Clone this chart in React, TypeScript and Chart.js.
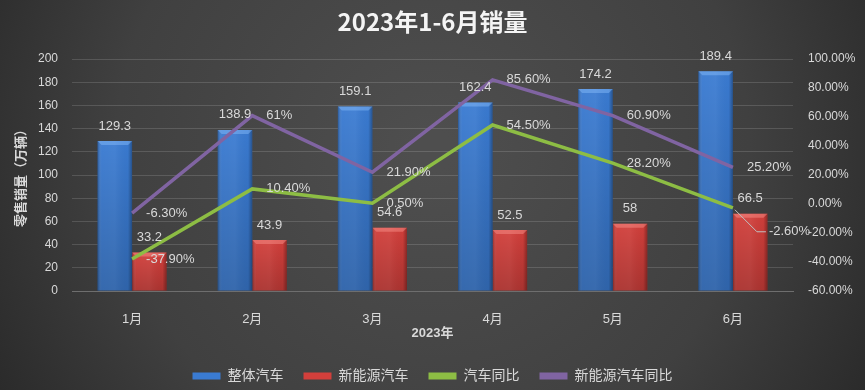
import React, { useEffect, useRef } from 'react';
import { Chart, registerables } from 'chart.js';

Chart.register(...registerables);

// ---- data ----
const categories = ['1月', '2月', '3月', '4月', '5月', '6月'];
const totalSales = [129.3, 138.9, 159.1, 162.4, 174.2, 189.4];
const nevSales = [33.2, 43.9, 54.6, 52.5, 58, 66.5];
const totalYoY = [-37.9, 10.4, 0.5, 54.5, 28.2, -2.6];
const nevYoY = [-6.3, 61, 21.9, 85.6, 60.9, 25.2];
const seriesNames = ['整体汽车', '新能源汽车', '汽车同比', '新能源汽车同比'];
const titleText = '2023年1-6月销量';
const xTitle = '2023年';
const yTitle = '零售销量（万辆）';

// ---- layout / style ----
const W = 865;
const H = 390;
const PLOT_LEFT = 72;
const PLOT_RIGHT = 793;
const PLOT_BOTTOM = 291;
const LAYOUT_BOTTOM = -3;
const FONT = '"Liberation Sans", "Noto Sans CJK SC", sans-serif';
const TEXT = '#d9d9d9';
const COLORS = ['#3a7bd2', '#d23f3b', '#8dbd44', '#8064a2'];
const BEVEL = ['rgba(140,190,250,0.45)', 'rgba(250,150,145,0.45)'];

const bgPlugin = {
  id: 'bg',
  beforeDraw(chart: any) {
    const { ctx } = chart;
    ctx.save();
    const g = ctx.createRadialGradient(W / 2, 150, 20, W / 2, 150, 560);
    g.addColorStop(0, '#4e4e4e');
    g.addColorStop(0.55, '#404040');
    g.addColorStop(1, '#232323');
    ctx.fillStyle = g;
    ctx.fillRect(0, 0, W, H);
    ctx.restore();
  },
};

const bevelPlugin = {
  id: 'bevel',
  afterDatasetDraw(chart: any, args: any) {
    const ds = chart.data.datasets[args.index];
    if (ds.type !== 'bar') return;
    const ctx = chart.ctx;
    args.meta.data.forEach((bar: any) => {
      const { x, y, base, width } = bar.getProps(['x', 'y', 'base', 'width'], true);
      const l = x - width / 2;
      const r = x + width / 2;
      ctx.save();
      const g = ctx.createLinearGradient(l, 0, r, 0);
      g.addColorStop(0, 'rgba(0,0,0,0.28)');
      g.addColorStop(0.12, 'rgba(255,255,255,0.04)');
      g.addColorStop(0.5, 'rgba(255,255,255,0.06)');
      g.addColorStop(0.88, 'rgba(0,0,0,0.02)');
      g.addColorStop(1, 'rgba(0,0,0,0.32)');
      ctx.fillStyle = g;
      ctx.fillRect(l, y, width, base - y);
      const v = ctx.createLinearGradient(0, y, 0, base);
      v.addColorStop(0, 'rgba(0,0,0,0)');
      v.addColorStop(1, 'rgba(0,0,0,0.18)');
      ctx.fillStyle = v;
      ctx.fillRect(l, y, width, base - y);
      ctx.beginPath();
      ctx.moveTo(l, y);
      ctx.lineTo(r, y);
      ctx.lineTo(r - 4, y + 4);
      ctx.lineTo(l + 4, y + 4);
      ctx.closePath();
      ctx.fillStyle = BEVEL[args.index];
      ctx.fill();
      ctx.restore();
    });
  },
};

const pctText = (v: number) => (Number.isInteger(v) ? `${v}%` : `${v.toFixed(2)}%`);

const labelPlugin = {
  id: 'valueLabels',
  afterDatasetsDraw(chart: any) {
    const ctx = chart.ctx;
    ctx.save();
    ctx.font = `13px ${FONT}`;
    ctx.fillStyle = TEXT;
    ctx.textBaseline = 'middle';
    chart.data.datasets.forEach((ds: any, di: number) => {
      const meta = chart.getDatasetMeta(di);
      meta.data.forEach((el: any, i: number) => {
        const v = ds.data[i];
        if (ds.type === 'bar') {
          ctx.textAlign = 'center';
          ctx.fillText(String(v), el.x, el.y - 15);
        } else {
          let tx = el.x + 14;
          let ty = el.y;
          if (di === 2 && i === 5) {
            // label moved down-right with a leader line
            tx = el.x + 36;
            ty = el.y + 24;
            ctx.save();
            ctx.strokeStyle = '#bfbfbf';
            ctx.lineWidth = 1;
            ctx.beginPath();
            ctx.moveTo(el.x + 2, el.y + 2);
            ctx.lineTo(el.x + 24, ty);
            ctx.lineTo(tx - 3, ty);
            ctx.stroke();
            ctx.restore();
          }
          ctx.textAlign = 'left';
          ctx.fillText(pctText(v), tx, ty);
        }
      });
    });
    ctx.restore();
  },
};

export default function App() {
  const ref = useRef<HTMLCanvasElement>(null);

  useEffect(() => {
    document.body.style.margin = '0';
    const canvas = ref.current!;
    const chart = new Chart(canvas, {
      type: 'bar',
      data: {
        labels: categories,
        datasets: [
          {
            type: 'bar',
            label: seriesNames[0],
            data: totalSales,
            backgroundColor: COLORS[0],
            borderWidth: 0,
            yAxisID: 'y',
            order: 2,
            barPercentage: 1,
            categoryPercentage: 0.575,
          },
          {
            type: 'bar',
            label: seriesNames[1],
            data: nevSales,
            backgroundColor: COLORS[1],
            borderWidth: 0,
            yAxisID: 'y',
            order: 2,
            barPercentage: 1,
            categoryPercentage: 0.575,
          },
          {
            type: 'line',
            label: seriesNames[2],
            data: totalYoY,
            borderColor: COLORS[2],
            backgroundColor: COLORS[2],
            borderWidth: 3.5,
            pointRadius: 0,
            tension: 0,
            yAxisID: 'y2',
            order: 1,
          },
          {
            type: 'line',
            label: seriesNames[3],
            data: nevYoY,
            borderColor: COLORS[3],
            backgroundColor: COLORS[3],
            borderWidth: 3.5,
            pointRadius: 0,
            tension: 0,
            yAxisID: 'y2',
            order: 1,
          },
        ] as any,
      },
      options: {
        responsive: false,
        animation: false,
        devicePixelRatio: 1,
        layout: { padding: { left: 0, right: 0, top: 0, bottom: LAYOUT_BOTTOM } },
        font: { family: FONT } as any,
        plugins: {
          title: {
            display: true,
            text: titleText,
            color: '#f4f4f4',
            font: { size: 24, weight: 'bold', family: '"Noto Sans CJK SC", sans-serif' },
            padding: { top: 7.6, bottom: 22.6 },
          },
          legend: {
            position: 'bottom',
            labels: {
              color: TEXT,
              font: { size: 14, family: FONT },
              boxWidth: 28,
              boxHeight: 7,
              padding: 20,
              generateLabels: (chart: any) =>
                chart.data.datasets.map((ds: any, i: number) => ({
                  text: ds.label,
                  fillStyle: COLORS[i],
                  strokeStyle: COLORS[i],
                  lineWidth: 0,
                  fontColor: TEXT,
                  hidden: false,
                  datasetIndex: i,
                })),
            },
          },
          tooltip: { enabled: false },
        },
        scales: {
          x: {
            grid: { display: false },
            border: { display: true, color: '#6e6e6e', width: 1 },
            ticks: { color: TEXT, font: { size: 13, family: FONT }, padding: 13 },
            title: {
              display: true,
              text: xTitle,
              color: TEXT,
              font: { size: 13, weight: 'bold', family: FONT },
              padding: { top: 0, bottom: 8 },
            },
            afterFit: (s: any) => {
              const lh = s.chart.legend ? s.chart.legend.height : 0;
              s.height = H - PLOT_BOTTOM - lh - LAYOUT_BOTTOM;
            },
          },
          y: {
            position: 'left',
            min: 0,
            max: 200,
            ticks: { stepSize: 20, color: TEXT, font: { size: 12, family: FONT }, padding: 14 },
            grid: { color: 'rgba(255,255,255,0.14)', drawTicks: false },
            border: { display: false },
            title: {
              display: true,
              text: yTitle,
              color: TEXT,
              font: { size: 13, weight: 'bold', family: FONT },
              padding: { top: 14, bottom: 0 },
            },
            afterFit: (s: any) => {
              s.width = PLOT_LEFT;
            },
          },
          y2: {
            position: 'right',
            min: -60,
            max: 100,
            ticks: {
              stepSize: 20,
              color: TEXT,
              font: { size: 12, family: FONT },
              padding: 15,
              callback: (v: any) => `${Number(v).toFixed(2)}%`,
            },
            grid: { display: false, drawTicks: false },
            border: { display: false },
            afterFit: (s: any) => {
              s.width = W - PLOT_RIGHT;
            },
          },
        },
      } as any,
      plugins: [bgPlugin, bevelPlugin, labelPlugin],
    });
    return () => chart.destroy();
  }, []);

  return <canvas ref={ref} width={W} height={H} style={{ display: 'block', width: W, height: H }} />;
}
